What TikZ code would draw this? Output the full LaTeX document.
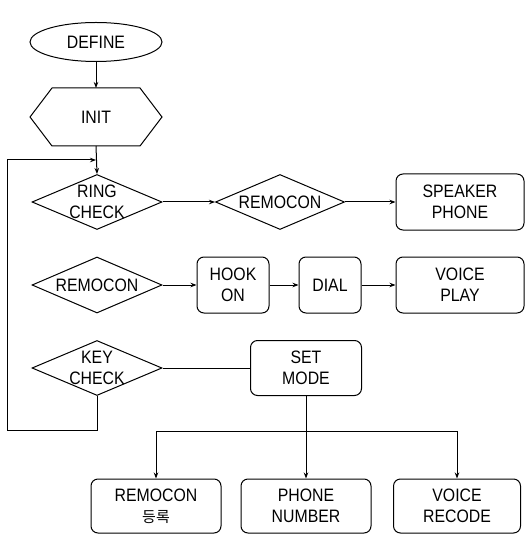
\documentclass[tikz,border=0pt]{standalone}
\usepackage{fontspec}
\setmainfont{Liberation Sans}[FakeStretch=0.88]
\newfontfamily\kofont{Noto Sans CJK KR}
\usetikzlibrary{shapes.geometric,arrows.meta}
\begin{document}
\begin{tikzpicture}[x=1pt,y=-1pt,font=\fontsize{18}{21}\selectfont,line width=1pt,
  dia/.style={draw,diamond,minimum width=130pt,minimum height=55pt,inner sep=0pt},
  lbl/.style={align=center,inner sep=0pt},
  rbox/.style={draw,rounded corners=7pt,align=center,minimum height=56pt,inner sep=0pt},
  arr/.style={-{Stealth[length=6pt,width=4.5pt]}}]
\useasboundingbox (0,0) rectangle (525,534);
% top
\node[draw,ellipse,minimum width=132pt,minimum height=39pt,inner sep=0pt] (define) at (96,42) {DEFINE};
\node[lbl,minimum width=131pt,minimum height=57pt] (init) at (96,117) {INIT};
\draw (init.west) -- ([xshift=22pt]init.north west) -- ([xshift=-22pt]init.north east)
  -- (init.east) -- ([xshift=-22pt]init.south east) -- ([xshift=22pt]init.south west) -- cycle;
% row 1
\node[dia] (ring) at (97,202) {};
\node[lbl] (ringt) at (ring) {RING\\CHECK};
\node[dia,minimum width=129pt] (rem1) at (280,202) {};
\node[lbl] (rem1t) at (rem1) {REMOCON};
\node[rbox,minimum width=128pt] (spk) at (460,202) {SPEAKER\\PHONE};
% row 2
\node[dia,minimum height=56pt] (rem2) at (97,285) {};
\node[lbl] (rem2t) at (rem2) {REMOCON};
\node[rbox,minimum width=72pt] (hook) at (233,285) {HOOK\\ON};
\node[rbox,minimum width=62pt] (dial) at (330,285) {DIAL};
\node[rbox,minimum width=128pt] (vplay) at (460,285) {VOICE\\PLAY};
% row 3
\node[dia] (key) at (97,368) {};
\node[lbl] (keyt) at (key) {KEY\\CHECK};
\node[rbox,minimum width=111pt,minimum height=55pt] (setm) at (306,368) {SET\\MODE};
% bottom row
\node[rbox,minimum width=130pt,minimum height=54pt] (reg) at (156,506) {REMOCON\\{\kofont\fontsize{15}{21}\selectfont 등록}};
\node[rbox,minimum width=130pt,minimum height=54pt] (phone) at (306,506) {PHONE\\NUMBER};
\node[rbox,minimum width=127pt,minimum height=54pt] (vrec) at (457,506) {VOICE\\RECODE};
% coordinates
\coordinate (j) at (96,160);
\coordinate (bus) at (306,431);
% connectors
\draw[arr] (define) -- (init);
\draw[arr] (init.south) -- (ring.north);
\draw[arr] (ring.east) -- (rem1.west);
\draw[arr] (rem1.east) -- (spk.west);
\draw[arr] (rem2.east) -- (hook.west);
\draw[arr] (hook.east) -- (dial.west);
\draw[arr] (dial.east) -- (vplay.west);
\draw (key.east) -- (setm.west);
\draw[arr] (key.south) -- ++(0,34) -| (7,160) -- (j);
\draw (setm.south) -- (bus);
\draw[arr] (bus) -| (reg.north);
\draw[arr] (bus) -- (phone.north);
\draw[arr] (bus) -| (vrec.north);
\end{tikzpicture}
\end{document}
